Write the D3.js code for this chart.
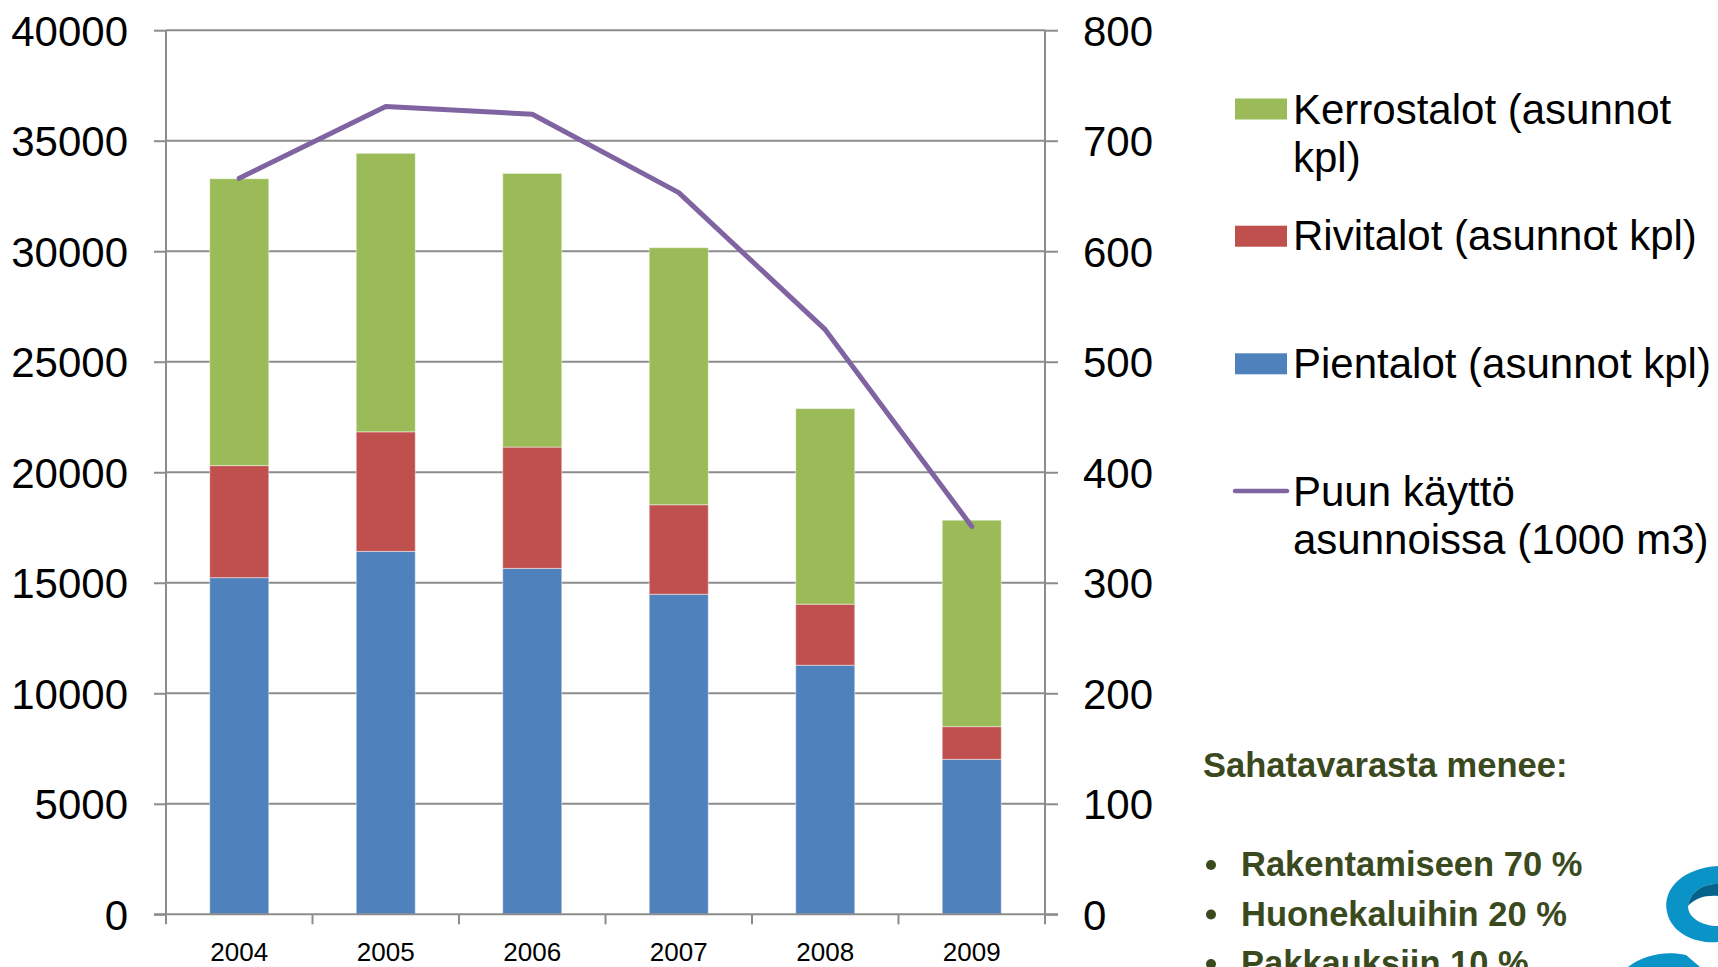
<!DOCTYPE html>
<html>
<head>
<meta charset="utf-8">
<script src="https://cdn.jsdelivr.net/npm/d3@7/dist/d3.min.js"></script>
<style>
  html, body { margin: 0; padding: 0; background: #fff; overflow: hidden; }
  svg { display: block; font-family: "Liberation Sans", Arial, sans-serif; }
</style>
</head>
<body>
<svg id="chart" width="1718" height="967"></svg>
<script>
// ---- Data ----
const years = ["2004", "2005", "2006", "2007", "2008", "2009"];
const pientalot = [15230, 16420, 15650, 14480, 11270, 7010];
const rivitalot = [5070, 5410, 5490, 4050, 2760, 1480];
const kerrostalot = [12980, 12600, 12380, 11630, 8850, 9340];
const puunKaytto = [666, 731, 724, 653, 529, 351];
const leftTicks = [0, 5000, 10000, 15000, 20000, 25000, 30000, 35000, 40000];
const rightTicks = [0, 100, 200, 300, 400, 500, 600, 700, 800];
const seriesNames = ["Pientalot (asunnot kpl)", "Rivitalot (asunnot kpl)", "Kerrostalot (asunnot kpl)"];
const lineName = "Puun käyttö asunnoissa (1000 m3)";
const colors = { Pientalot: "#4F81BD", Rivitalot: "#C0504D", Kerrostalot: "#9BBB59", line: "#8064A2" };
const noteTitle = "Sahatavarasta menee:";
const noteItems = ["Rakentamiseen 70 %", "Huonekaluihin 20 %", "Pakkauksiin 10 %"];

// ---- Layout ----
const svg = d3.select("#chart");
const plot = { left: 166, right: 1045, top: 30.2, bottom: 914.3 };
const gridColor = "#8C8C8C";

const x = d3.scaleBand().domain(years).range([plot.left, plot.right])
  .paddingInner(0.597).paddingOuter(0.2985);
const yL = d3.scaleLinear().domain([0, 40000]).range([plot.bottom, plot.top]);
const yR = d3.scaleLinear().domain([0, 800]).range([plot.bottom, plot.top]);

// gridlines
svg.append("g").selectAll("line").data(leftTicks.filter(d => d > 0)).join("line")
  .attr("x1", plot.left).attr("x2", plot.right)
  .attr("y1", d => yL(d)).attr("y2", d => yL(d))
  .attr("stroke", gridColor).attr("stroke-width", 2);

// stacked bars
const rows = years.map((y, i) => ({ year: y, Pientalot: pientalot[i], Rivitalot: rivitalot[i], Kerrostalot: kerrostalot[i] }));
const stack = d3.stack().keys(["Pientalot", "Rivitalot", "Kerrostalot"])(rows);
svg.append("g").selectAll("g").data(stack).join("g")
  .attr("fill", d => colors[d.key])
  .selectAll("rect").data(d => d).join("rect")
  .attr("x", d => x(d.data.year))
  .attr("width", x.bandwidth())
  .attr("y", d => yL(d[1]))
  .attr("height", d => yL(d[0]) - yL(d[1]))
  .attr("stroke", "rgba(255,255,255,0.45)").attr("stroke-width", 1);

// left axis
const axL = svg.append("g").attr("transform", `translate(${plot.left},0)`)
  .call(d3.axisLeft(yL).tickValues(leftTicks).tickSize(12).tickPadding(26).tickFormat(d3.format("d")));
axL.select(".domain").attr("stroke", gridColor).attr("stroke-width", 2).attr("d", `M0,${plot.top}V${plot.bottom}`);
axL.selectAll(".tick line").attr("stroke", gridColor).attr("stroke-width", 2);
axL.selectAll("text").attr("font-size", 42).attr("fill", "#000").attr("font-family", "Liberation Sans, Arial, sans-serif").attr("dy", "0.36em");

// right axis
const axR = svg.append("g").attr("transform", `translate(${plot.right},0)`)
  .call(d3.axisRight(yR).tickValues(rightTicks).tickSize(13).tickPadding(25).tickFormat(d3.format("d")));
axR.select(".domain").attr("stroke", gridColor).attr("stroke-width", 2).attr("d", `M0,${plot.top}V${plot.bottom}`);
axR.selectAll(".tick line").attr("stroke", gridColor).attr("stroke-width", 2);
axR.selectAll("text").attr("font-size", 42).attr("fill", "#000").attr("font-family", "Liberation Sans, Arial, sans-serif").attr("dy", "0.36em");

// bottom axis
const axB = svg.append("g").attr("transform", `translate(0,${plot.bottom})`)
  .call(d3.axisBottom(x).tickSize(0).tickPadding(0));
axB.select(".domain").attr("stroke", gridColor).attr("stroke-width", 2).attr("d", `M${plot.left - 12},0H${plot.right + 13}`);
axB.selectAll(".tick text").attr("font-size", 26).attr("fill", "#000")
  .attr("font-family", "Liberation Sans, Arial, sans-serif").attr("y", 46.5).attr("dy", 0);
const bounds = years.map(y => x(y) - x.step() * x.paddingInner() / 2).concat([plot.right]);
svg.append("g").selectAll("line").data(bounds).join("line")
  .attr("x1", d => d).attr("x2", d => d)
  .attr("y1", plot.bottom).attr("y2", plot.bottom + 10)
  .attr("stroke", gridColor).attr("stroke-width", 2);

// line series
const line = d3.line().x((d, i) => x(years[i]) + x.bandwidth() / 2).y(d => yR(d));
svg.append("path").datum(puunKaytto).attr("d", line)
  .attr("fill", "none").attr("stroke", colors.line).attr("stroke-width", 5)
  .attr("stroke-linejoin", "round").attr("stroke-linecap", "round");

// legend
const lg = svg.append("g").attr("font-size", 42).attr("fill", "#000");
const legendItems = [
  { type: "rect", color: colors.Kerrostalot, y0: 98.5, lines: ["Kerrostalot (asunnot", "kpl)"], base: 124 },
  { type: "rect", color: colors.Rivitalot, y0: 225.7, lines: ["Rivitalot (asunnot kpl)"], base: 250 },
  { type: "rect", color: colors.Pientalot, y0: 353.3, lines: ["Pientalot (asunnot kpl)"], base: 377.7 },
  { type: "line", color: colors.line, y0: 491, lines: ["Puun käyttö", "asunnoissa (1000 m3)"], base: 506 }
];
legendItems.forEach(it => {
  if (it.type === "rect") {
    lg.append("rect").attr("x", 1235).attr("y", it.y0).attr("width", 52).attr("height", 21).attr("fill", it.color);
  } else {
    lg.append("line").attr("x1", 1235).attr("x2", 1287).attr("y1", it.y0).attr("y2", it.y0)
      .attr("stroke", it.color).attr("stroke-width", 4.5).attr("stroke-linecap", "round");
  }
  it.lines.forEach((t, j) => {
    lg.append("text").attr("x", 1293).attr("y", it.base + j * 48.3).text(t);
  });
});

// note text
const noteColor = "#3B4A1E";
const ng = svg.append("g").attr("fill", noteColor).attr("font-weight", "bold").attr("font-size", 34.5);
ng.append("text").attr("x", 1203).attr("y", 777).text(noteTitle);
noteItems.forEach((t, i) => {
  const by = 876 + i * 49.5;
  ng.append("circle").attr("cx", 1211).attr("cy", by - 11).attr("r", 5);
  ng.append("text").attr("x", 1241).attr("y", by).text(t);
});

// decorative logo swirl (partial, bottom-right)
const logo = svg.append("g");
logo.append("path")
  .attr("d", "M1718,866 C1684,868 1662,888 1667,912 C1672,936 1700,944 1718,942 L1718,926 C1702,926 1688,918 1688,906 C1690,892 1702,884 1718,884 Z")
  .attr("fill", "#0A93C6");
logo.append("path")
  .attr("d", "M1718,884 C1702,884 1690,892 1688,906 C1695,898 1706,895 1718,896 Z")
  .attr("fill", "#05628A");
logo.append("path")
  .attr("d", "M1628,967 C1642,956 1664,950 1686,955 L1700,967 Z")
  .attr("fill", "#0A93C6");
</script>
</body>
</html>
